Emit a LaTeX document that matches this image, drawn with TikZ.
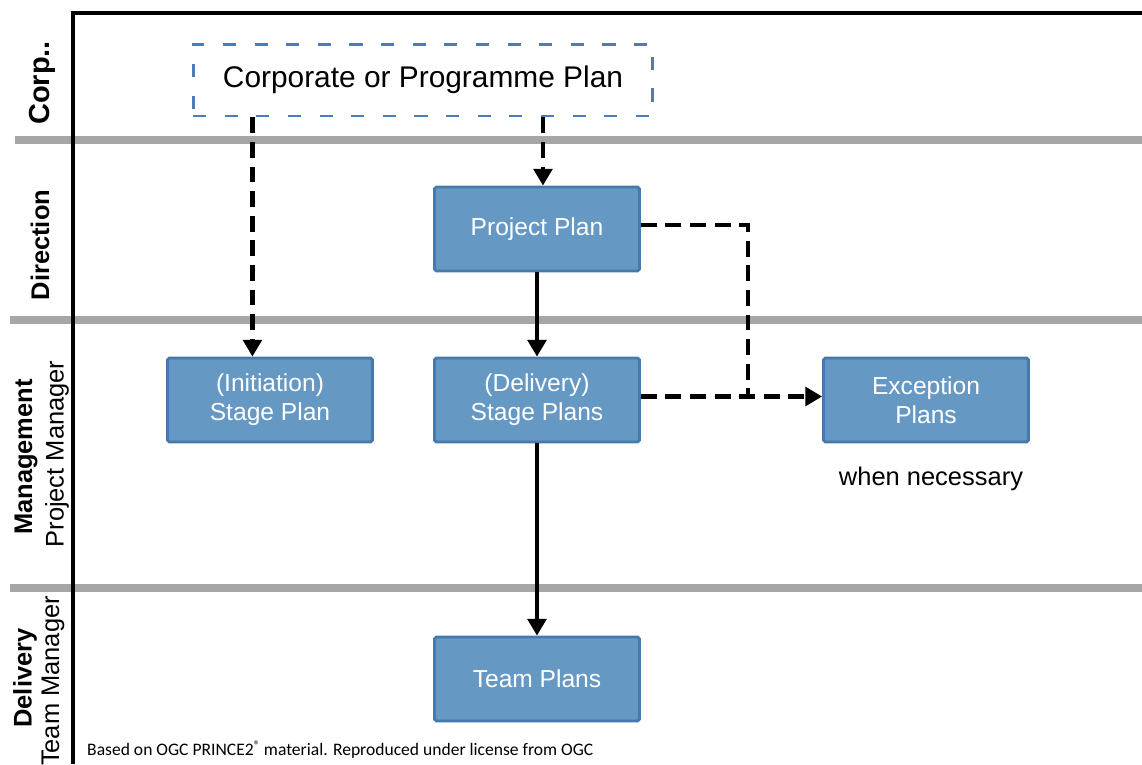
\documentclass[tikz,border=0pt]{standalone}
\usepackage{fontspec}
\setmainfont{Liberation Sans}
\newfontfamily\footfont{Carlito}
\usetikzlibrary{
  arrows.meta,
  positioning
}
\definecolor{planfill}{RGB}{102,152,196}
\definecolor{planedge}{RGB}{70,122,172}
\definecolor{corpedge}{RGB}{74,126,187}
\definecolor{laneline}{RGB}{166,166,166}

\begin{document}
\begin{tikzpicture}[
      x=0.02cm, y=-0.02cm,
      plan/.style={
         rectangle,
         rounded corners=1pt,
         minimum width=4.1cm,
         minimum height=1.68cm,
         inner sep=0pt,
         line width=1.6pt,
         draw=planedge,
         fill=planfill,
         text=white,
         align=center,
         font=\fontsize{14}{16.5}\selectfont
      },
      corpplan/.style={
         rectangle,
         minimum width=9.2cm,
         minimum height=1.44cm,
         line width=1.7pt,
         draw=corpedge,
         dash pattern=on 7.5pt off 10.5pt,
         font=\fontsize{17}{20}\selectfont
      },
      lane/.style={rotate=90, font=\fontsize{14.5}{17}\selectfont},
      lanebar/.style={line width=4.5pt, draw=laneline},
      flow/.style={line width=2.8pt},
      maybe/.style={line width=2.5pt, dash pattern=on 9pt off 5pt},
      tip/.style={-{Triangle[width=10.5pt,length=9.5pt]}}
    ]
    \useasboundingbox (0,0) rectangle (1142,764);

    % swim lanes
    \draw[lanebar] (15,140) -- (1142,140);
    \draw[lanebar] (10,320) -- (1142,320);
    \draw[lanebar] (10,588) -- (1142,588);
    \draw[line width=2pt] (73,764) -- (73,13) -- (1142,13);

    \node (l1) [lane, font=\fontsize{16.5}{19}\bfseries] at (42,83) {Corp..};
    \node (l2) [lane, font=\fontsize{14.5}{17}\bfseries] at (40,245) {Direction};
    \node (l3) [lane, font=\fontsize{14.5}{17}\bfseries] at (26,457) {Management};
    \node (l4) [lane] at (57,454) {Project Manager};
    \node (l5) [lane, font=\fontsize{14.5}{17}\bfseries] at (25,678) {Delivery};
    \node (l6) [lane] at (53,681) {Team Manager};

    % plans
    \node (corp) [corpplan] at (423,80) {Corporate or Programme Plan};
    \node (pp)  [plan] at (537,229) {Project Plan};
    \node (isp) [plan] at (270,400) {(Initiation)\\Stage Plan};
    \node (dsp) [plan] at (537,400) {(Delivery)\\Stage Plans};
    \node (ep)  [plan] at (926,400) {Exception\\Plans};
    \node (tp)  [plan] at (537,679) {Team Plans};
    \node (when) [font=\fontsize{14.5}{17}\selectfont] at (931,479) {when necessary};

    \coordinate (isptop) at ([xshift=-10pt]isp.north);
    \coordinate (pptop) at ([xshift=3.4pt]pp.north);
    \coordinate (ppout) at ([yshift=2.3pt]pp.east);
    \coordinate (dspout) at ([yshift=2pt]dsp.east);
    \coordinate (epin) at ([yshift=2pt]ep.west);
    \coordinate (joint) at (748,396);

    \draw[maybe, tip] (corp.south -| isptop) -- (isptop);
    \draw[maybe, tip] (corp.south -| pptop) -- (pptop);
    \draw[flow, tip] (pp) -- (dsp);
    \draw[flow, tip] (dsp) -- (tp);
    \draw[maybe] (ppout) -| (joint);
    \draw[maybe, tip] (dspout) -- (epin);

    \node (src) [anchor=west, font=\footfont\fontsize{10}{12}\selectfont] at (81,750)
       {Based on OGC PRINCE2\raisebox{0.7ex}{\fontsize{7}{8}\selectfont ®} material. Reproduced under license from OGC};
\end{tikzpicture}
\end{document}
